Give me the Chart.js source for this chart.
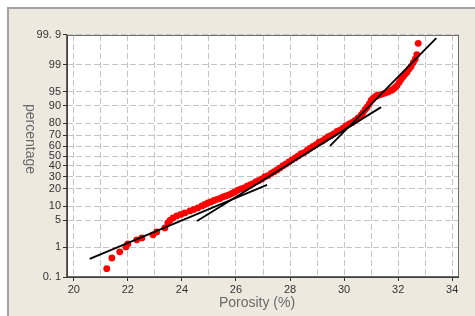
<!DOCTYPE html>
<html>
<head>
<meta charset="utf-8">
<script src="https://cdn.jsdelivr.net/npm/chart.js@4"></script>
<style>
  html, body { margin: 0; padding: 0; background: #fff; }
  #wrap { position: relative; width: 475px; height: 316px; overflow: hidden; }
  #panel { position: absolute; left: 7px; top: 7px; right: 0; bottom: 0;
           background: #ede9df; border-left: 2px solid #a2a2a2; border-top: 2px solid #a2a2a2; }
  #chart { position: absolute; left: 0; top: 0; }
</style>
</head>
<body>
<div id="wrap">
  <div id="panel"></div>
  <canvas id="chart" width="475" height="316"></canvas>
</div>
<script>
// porosity (%) of each sample and its cumulative percentage
const porosity = [21.22,21.41,21.70,21.93,22.00,22.33,22.52,22.93,23.07,23.37,23.48,23.56,23.67,23.81,23.96,24.11,24.30,24.44,24.59,24.74,
  24.85,24.96,25.07,25.19,25.30,25.41,25.52,25.63,25.74,25.85,25.96,26.07,26.19,26.30,26.41,26.52,26.63,26.74,26.85,26.96,
  27.07,27.19,27.30,27.41,27.52,27.63,27.74,27.85,27.96,28.07,28.19,28.30,28.41,28.52,28.63,28.74,28.85,28.96,29.07,29.19,
  29.30,29.41,29.52,29.63,29.74,29.85,29.96,30.07,30.19,30.30,30.41,30.52,30.63,30.70,30.78,30.85,30.93,31.00,31.07,31.15,
  31.22,31.30,31.41,31.52,31.63,31.74,31.81,31.89,31.96,32.04,32.11,32.19,32.26,32.33,32.41,32.48,32.56,32.63,32.69,32.74];
const cumPct = [0.20,0.46,0.72,1.01,1.24,1.61,1.82,2.20,2.63,3.31,4.37,5.0,5.68,6.29,6.78,7.30,8.03,8.61,9.23,10.1,
  10.8,11.5,12.0,12.8,13.4,13.9,14.8,15.4,16.1,16.9,17.9,19.2,20.0,20.7,22.0,23.0,24.1,25.6,26.6,27.9,
  29.8,30.9,32.8,34.4,36.1,38.0,40.2,41.9,43.9,46.1,48.0,50.0,52.3,53.5,55.6,57.9,59.6,61.5,63.8,64.9,
  66.8,68.9,70.0,71.7,73.6,74.6,76.2,78.1,79.3,80.4,81.9,83.4,85.2,86.6,88.3,89.4,90.8,92.2,92.9,93.5,
  93.9,94.0,94.3,94.6,94.9,95.3,95.6,96.0,96.4,97.0,97.5,97.9,98.2,98.4,98.7,98.9,99.15,99.33,99.52,99.80];

// three straight-line segments
const fit1X = [20.59, 27.15], fit1Pct = [0.43, 23.0];
const fit2X = [24.56, 31.37], fit2Pct = [4.87, 89.4];
const fit3X = [29.48, 33.41], fit3Pct = [60.1, 99.87];

const yTickPcts = [0.1, 1, 5, 10, 20, 30, 40, 50, 60, 70, 80, 90, 95, 99, 99.9];
const yTickLabels = ['0. 1','1','5','10','20','30','40','50','60','70','80','90','95','99','99. 9'];
const xTickVals = [20,21,22,23,24,25,26,27,28,29,30,31,32,33,34];

// inverse normal cdf (Acklam)
function probit(p) {
  const a=[-3.969683028665376e+01,2.209460984245205e+02,-2.759285104469687e+02,1.383577518672690e+02,-3.066479806614716e+01,2.506628277459239e+00];
  const b=[-5.447609879822406e+01,1.615858368580409e+02,-1.556989798598866e+02,6.680131188771972e+01,-1.328068155288572e+01];
  const c=[-7.784894002430293e-03,-3.223964580411365e-01,-2.400758277161838e+00,-2.549671348243420e+00,4.374664141464968e+00,2.938163982698783e+00];
  const d=[7.784695709041462e-03,3.224671290700398e-01,2.445134137142996e+00,3.754408661907416e+00];
  const pl = 0.02425;
  let q, r;
  if (p < pl) {
    q = Math.sqrt(-2*Math.log(p));
    return (((((c[0]*q+c[1])*q+c[2])*q+c[3])*q+c[4])*q+c[5])/((((d[0]*q+d[1])*q+d[2])*q+d[3])*q+1);
  }
  if (p <= 1-pl) {
    q = p-0.5; r = q*q;
    return (((((a[0]*r+a[1])*r+a[2])*r+a[3])*r+a[4])*r+a[5])*q/(((((b[0]*r+b[1])*r+b[2])*r+b[3])*r+b[4])*r+1);
  }
  q = Math.sqrt(-2*Math.log(1-p));
  return -(((((c[0]*q+c[1])*q+c[2])*q+c[3])*q+c[4])*q+c[5])/((((d[0]*q+d[1])*q+d[2])*q+d[3])*q+1);
}
const toPts = (xs, ps) => xs.map((x, i) => ({x: x, y: probit(ps[i]/100)}));
const yLim = probit(0.999);

const lineStyle = {type: 'scatter', showLine: true, borderColor: '#000', borderWidth: 1.8, pointRadius: 0, fill: false};

const framePlugin = {
  id: 'frame',
  beforeDraw(chart) {
    const {ctx, chartArea: a} = chart;
    ctx.save();
    ctx.fillStyle = '#fff';
    ctx.fillRect(a.left, a.top, a.right - a.left, a.bottom - a.top);
    ctx.restore();
  },
  beforeDatasetsDraw(chart) {
    const {ctx, chartArea: a} = chart;
    ctx.save();
    ctx.strokeStyle = '#707070';
    ctx.lineWidth = 1;
    ctx.strokeRect(a.left + 0.5, a.top + 0.5, a.right - a.left - 1, a.bottom - a.top);
    ctx.strokeStyle = '#333';
    ctx.lineWidth = 1.5;
    ctx.beginPath();
    ctx.moveTo(a.left, a.top); ctx.lineTo(a.left, a.bottom); ctx.lineTo(a.right, a.bottom);
    ctx.stroke();
    ctx.restore();
  },
  afterDraw(chart) {
    const {ctx} = chart;
    ctx.save();
    ctx.fillStyle = '#6a6a6a';
    ctx.font = '14px "Liberation Sans", Arial, sans-serif';
    ctx.textAlign = 'center';
    ctx.textBaseline = 'middle';
    ctx.fillText('Porosity (%)', 257, 303);
    ctx.translate(30, 139);
    ctx.rotate(Math.PI / 2);
    ctx.fillText('percentage', 0, 0);
    ctx.restore();
  }
};

new Chart(document.getElementById('chart'), {
  type: 'scatter',
  data: {
    datasets: [
      Object.assign({data: toPts(fit1X, fit1Pct)}, lineStyle),
      Object.assign({data: toPts(fit2X, fit2Pct)}, lineStyle),
      Object.assign({data: toPts(fit3X, fit3Pct)}, lineStyle),
      {data: toPts(porosity, cumPct), pointRadius: 3.4, pointBackgroundColor: '#ff0000', pointBorderWidth: 0, borderWidth: 0}
    ]
  },
  options: {
    responsive: false,
    animation: false,
    devicePixelRatio: 1,
    layout: {padding: {left: 0, top: 35, right: 16, bottom: 0}},
    plugins: {legend: {display: false}, tooltip: {enabled: false}},
    scales: {
      x: {
        type: 'linear', min: 19.75, max: 34.25,
        afterBuildTicks: s => { s.ticks = xTickVals.map(v => ({value: v})); },
        afterFit: s => { s.height = 39; },
        grid: {color: '#c4c4c4', lineWidth: 1, tickLength: 4,
               tickColor: c => (c.tick && c.tick.value % 2 === 0) ? '#333' : 'rgba(0,0,0,0)', tickBorderDash: []},
        border: {display: false, dash: [6, 3]},
        ticks: {autoSkip: false, maxRotation: 0, padding: 2, color: '#333',
                font: {family: '"Liberation Sans", Arial, sans-serif', size: 11},
                callback: v => (v % 2 === 0 ? String(v) : '')}
      },
      y: {
        type: 'linear', min: -yLim, max: yLim,
        afterBuildTicks: s => { s.ticks = yTickPcts.map(p => ({value: probit(p/100)})); },
        afterFit: s => { s.width = 67; },
        grid: {color: '#c4c4c4', lineWidth: 1, tickLength: 4, tickColor: '#333', tickBorderDash: []},
        border: {display: false, dash: [6, 3]},
        ticks: {autoSkip: false, padding: 2, color: '#333',
                font: {family: '"Liberation Sans", Arial, sans-serif', size: 11},
                callback: (v, i) => yTickLabels[i]}
      }
    }
  },
  plugins: [framePlugin]
});
</script>
</body>
</html>
